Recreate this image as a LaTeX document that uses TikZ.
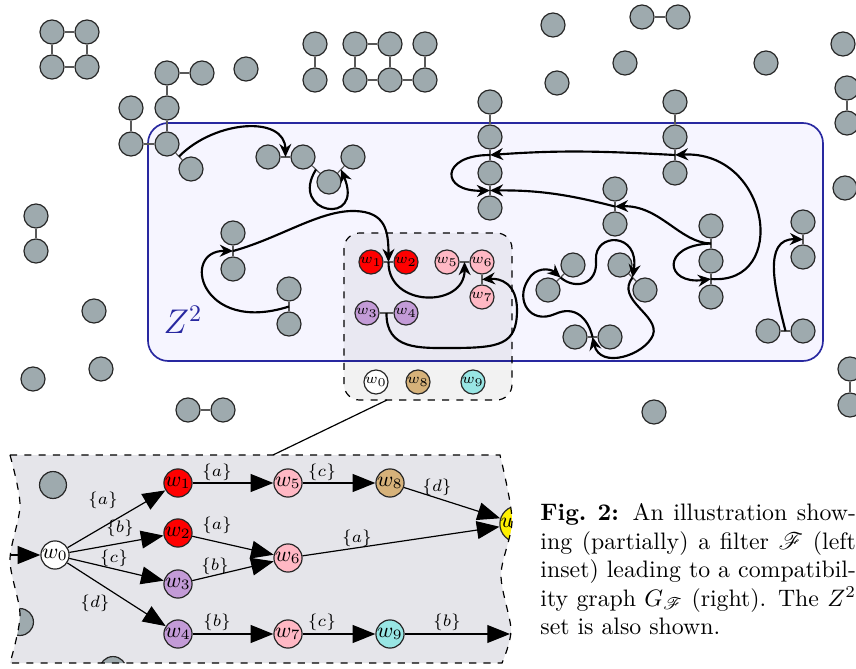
\documentclass[tikz,border=0pt]{standalone}
\usepackage{amsmath,amssymb,mathrsfs}
\usetikzlibrary{arrows.meta,calc}

\definecolor{gfill}{RGB}{158,170,174}
\definecolor{zblue}{RGB}{40,40,160}
\definecolor{zfill}{RGB}{246,245,255}
\definecolor{lensbg}{RGB}{229,229,234}
\definecolor{wred}{RGB}{255,0,0}
\definecolor{wpink}{RGB}{255,184,196}
\definecolor{wpurple}{RGB}{195,155,215}
\definecolor{wtan}{RGB}{214,178,122}
\definecolor{wcyan}{RGB}{152,230,228}
\definecolor{wyellow}{RGB}{255,240,0}

% outline of the magnified filter view
\newcommand{\lenspath}{(10,455) -- (500,455) -- plot[smooth] coordinates {(500,455) (512,520) (501,575) (511,630) (502,663)} -- (10,663) -- plot[smooth] coordinates {(10,663) (20,615) (10,560) (20,505) (10,455)} -- cycle}

\tikzset{
  gnode/.style={circle,draw=black!85,fill=gfill,line width=0.5pt,minimum size=10.1pt,inner sep=0pt},
  gbig/.style={gnode,minimum size=11.3pt},
  wnode/.style={circle,draw=black!85,line width=0.5pt,minimum size=10.1pt,inner sep=0pt,font=\fontsize{6.3pt}{7pt}\selectfont},
  wbig/.style={wnode,minimum size=11.3pt,font=\small},
  gedge/.style={draw=black!65,line width=0.5pt},
  compat/.style={line width=0.9pt,-{Stealth[length=5.5pt,width=5pt,inset=1.8pt]}},
  filt/.style={draw=black,line width=0.5pt,-{Triangle[length=9.5pt,width=7.5pt]}},
  lab/.style={font=\scriptsize,inner sep=0pt},
}

\begin{document}
\begin{tikzpicture}[x=0.42pt,y=-0.42pt]
\useasboundingbox (0,0) rectangle (856,669);
\clip (0,0) rectangle (856,669);

% Z^2 region and filter inset
\draw[zblue,fill=zfill,line width=0.7pt,rounded corners=8.5pt] (148,123) rectangle (823,361);
\node[zblue,font=\Large] (zlabel) at (183,320) {$Z^2$};
\draw[dashed,line width=0.5pt,rounded corners=6.5pt,fill=black,fill opacity=0.05] (344,233) rectangle (512,400);

% grey vertices
\foreach \n/\x/\y in {s1/52/32, s2/87/32, s3/52/67, s4/87/67,
  c1/167/73, c2/202/73, c3/167/108, c4/131/108, c5/131/144, c6/167/144, c7/191/169, o1/246/69,
  t1/315/44, t2/315/80, t3/355/44, t4/390/44, t5/425/44, t6/355/80, t7/390/80, t8/425/80,
  o2/553/25, u1/642/17, u2/678/17, o3/625/63, o4/557/83, o5/766/63, o6/843/44, u3/847/88, u4/847/123, o7/845/188,
  k1/490/102, k2/490/137, k3/490/173, k4/490/208, r1/675/102, r2/675/137, r3/675/173,
  p1/615/189, p2/615/224, q1/711/226, q2/711/261, q3/711/297,
  x1/803/222, x2/803/257, x3/768/331, x4/803/331,
  a1/573/265, a2/548/290, b1/620/265, b2/645/290, d1/575/337, d2/610/337,
  i1/268/157, i2/303/157, i3/329/182, i4/353/157, h1/233/233, h2/233/269, h3/289/289, h4/289/324,
  l1/36/216, l2/36/251, o8/94/311, o9/33/379, o10/101/369, l3/188/410, l4/223/410, o11/654/412,
  u5/850/369, u6/850/405}
  \node[gnode] (\n) at (\x,\y) {};
\foreach \a/\b in {s1/s2, s3/s4, s1/s3, s2/s4, c1/c2, c1/c3, c3/c6, c4/c5, c5/c6, c6/c7,
  t1/t2, t3/t4, t3/t6, t4/t7, t6/t7, t7/t8, t5/t8, u1/u2, u3/u4, u5/u6,
  k1/k2, k2/k3, k3/k4, r1/r2, r2/r3, p1/p2, q1/q2, q2/q3, x1/x2, x3/x4,
  a1/a2, b1/b2, d1/d2, i1/i2, i2/i3, i3/i4, h1/h2, h3/h4, l1/l2, l3/l4}
  \draw[gedge] (\a) -- (\b);

% filter vertices inside Z^2
\foreach \n/\x/\y/\c in {1/371/262/wred, 2/406/262/wred, 5/447/262/wpink, 6/482/262/wpink, 7/482/297/wpink,
  3/367/313/wpurple, 4/406/313/wpurple, 0/376/382/white, 8/418/382/wtan, 9/473/382/wcyan}
  \node[wnode,fill=\c] (w\n) at (\x,\y) {$w_{\n}$};
\foreach \a/\b in {w1/w2, w5/w6, w6/w7, w3/w4}
  \draw[gedge] (\a) -- (\b);

% edge midpoints
\foreach \m/\a/\b in {mA/c6/c7, mB/i1/i2, mC/i2/i3, mD/i3/i4, mE/h1/h2, mF/h3/h4,
  m12/w1/w2, m56/w5/w6, m67/w6/w7, m34/w3/w4, mK23/k2/k3, mK34/k3/k4, mR/r2/r3, mP/p1/p2,
  mQ1/q1/q2, mQ2/q2/q3, mX/x1/x2, mY/x3/x4, mSa/a1/a2, mSb/b1/b2, mSd/d1/d2}
  \coordinate (\m) at ($(\a)!0.5!(\b)$);

% compatibility arcs
\draw[compat] (mA) .. controls (215,120) and (285,115) .. (mB);
\draw[compat] (mC) .. controls (288,214) and (365,227) .. (mD);
\draw[compat] (mE) .. controls (280,238) and (320,210) .. (355,211) .. controls (385,212) and (388.5,230) .. (m12);
\draw[compat] (mF) .. controls (200,335) and (180,250) .. (mE);
\draw[compat] (m12) .. controls (388,308) and (465,308) .. (m56);
\draw[compat] (m34) .. controls (386,350) and (420,348) .. (450,348) .. controls (500,348) and (517,345) .. (517,310) .. controls (517,283) and (500,278) .. (m67);
\draw[compat] (mY) .. controls (775,290) and (762,238) .. (mX);
\draw[compat] (mQ1) .. controls (660,245) and (665,285) .. (mQ2);
\draw[compat] (mQ1) .. controls (680,243) and (660,205) .. (mP);
\draw[compat] (mP) .. controls (570,195) and (540,190) .. (mK34);
\draw[compat] (mQ2) .. controls (790,285) and (770,150) .. (mR);
\draw[compat] (mR) .. controls (600,151) and (560,150) .. (mK23);
\draw[compat] (mK23) .. controls (440,155) and (440,192) .. (mK34);
\draw[compat] (mSa) .. controls (575,290) and (598,285) .. (596,260) .. controls (594,232) and (640,232) .. (mSb);
\draw[compat] (mSb) .. controls (615,300) and (660,315) .. (653,335) .. controls (645,355) and (600,370) .. (mSd);
\draw[compat] (mSd) .. controls (588,318) and (575,305) .. (555,314) .. controls (530,325) and (515,300) .. (528,280) .. controls (535,267) and (550,268) .. (mSa);

% magnified filter
\coordinate (zfrom) at (387,400);
\coordinate (zto) at (273,455);
\draw[line width=0.5pt] (zfrom) -- (zto);
\fill[lensbg] \lenspath;
\begin{scope}
\clip \lenspath;
\node[gbig] (e1) at (53,485) {};
\node[gbig] (e2) at (20,622) {};
\node[gbig] (e3) at (113,670) {};
\foreach \n/\x/\y/\c in {0/55/555/white, 1/178/483/wred, 2/178/533/wred, 3/178/584/wpurple, 4/178/634/wpurple,
  5/288/483/wpink, 6/288/558/wpink, 7/288/634/wpink, 8/390/483/wtan, 9/390/634/wcyan, 10/518/524/wyellow}
  \node[wbig,fill=\c] (v\n) at (\x,\y) {$w_{\n}$};
\coordinate (vin) at (0,555);
\coordinate (vout) at (510,634);
\foreach \a/\b in {vin/v0, v0/v1, v0/v2, v0/v3, v0/v4, v1/v5, v2/v6, v3/v6, v4/v7, v5/v8, v7/v9, v8/v10, v6/v10, v9/vout}
  \draw[filt] (\a) -- (\b);
\foreach \n/\x/\y/\t in {1/103/500/a, 2/120/528/b, 3/114/558/c, 4/95/603/d, 5/217/472/a, 6/217/525/a, 7/215/566/b,
  8/217/622/b, 9/322/472/c, 10/357/538/a, 11/437/487/d, 12/322/622/c, 13/447/622/b}
  \node[lab] (lab\n) at (\x,\y) {$\{\t\}$};
\end{scope}
\draw[dashed,line width=0.5pt] \lenspath;

% caption
\node[anchor=north west,inner sep=0pt,text width=132.5pt,align=justify] (caption) at (540,503)
  {\textbf{Fig.~2:} An illustration show-\linebreak ing (partially) a filter $\mathscr{F}$ (left\linebreak inset) leading to a compatibil-\linebreak ity graph $G_{\mathscr{F}}$ (right). The $Z^2$\linebreak set is also shown.};
\end{tikzpicture}
\end{document}
